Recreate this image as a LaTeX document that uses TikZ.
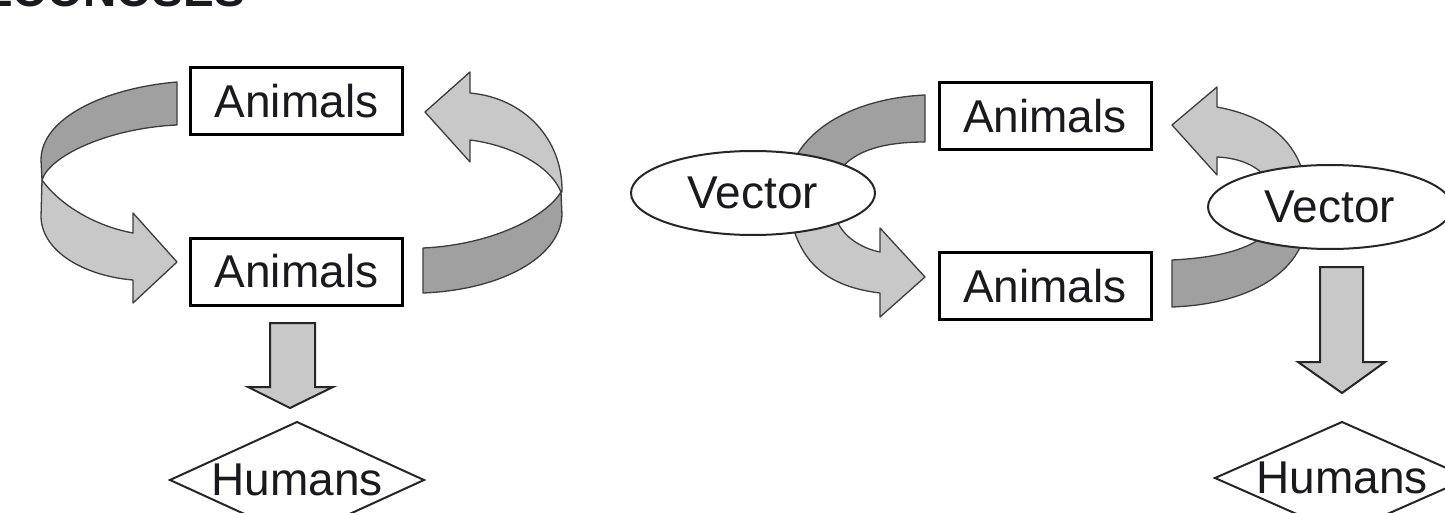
\documentclass[tikz,border=0pt]{standalone}
\usepackage{fontspec}
\setmainfont{Liberation Sans}
\usetikzlibrary{shapes.geometric,calc}
\definecolor{darkband}{RGB}{160,160,160}
\definecolor{lightband}{RGB}{200,200,200}
\definecolor{ribedge}{RGB}{60,60,60}
\definecolor{inkcol}{RGB}{25,25,30}
\begin{document}
\begin{tikzpicture}[x=1pt,y=-1pt,
  lab/.style={font=\fontsize{46}{50}\selectfont, text=inkcol, inner sep=0pt},
  boxnode/.style={lab, draw=black, line width=3pt, fill=white, minimum width=212pt, minimum height=67pt},
  vecnode/.style={lab, ellipse, draw=black!85, line width=2pt, fill=white, minimum width=244pt, minimum height=84pt},
  diamline/.style={draw=black!85, line width=2pt, line join=miter},
  darkrib/.style={fill=darkband, draw=ribedge, line width=1.3pt, line join=round},
  lightrib/.style={fill=lightband, draw=ribedge, line width=1.3pt, line join=round},
  downarrow/.style={fill=lightband, draw=black!85, line width=2pt, line join=miter}]
\useasboundingbox (0,0) rectangle (1445,513);
\clip (0,0) rectangle (1445,513);

% heading (cut off at the top)
\node[font=\bfseries\fontsize{46}{50}\selectfont, text=inkcol, anchor=base east, inner sep=0pt] (head) at (245,7) {ZOONOSES};

% ---------- left panel ----------
\node[boxnode] (a1) at (296.5,101.5) {Animals};
\node[boxnode] (a2) at (296.5,271.5) {Animals};

% left ribbon: dark part
\draw[darkrib] (177,82) .. controls (105,88) and (41,118) .. (41,160)
  -- (42,180) .. controls (50,155) and (110,128) .. (177,125) -- cycle;
% left ribbon: light part with head
\draw[lightrib] (42,180) .. controls (60,205) and (95,226) .. (133,233)
  -- (133,213) -- (177,262) -- (133,303) -- (133,280)
  .. controls (85,276) and (42,252) .. (41,217) -- cycle;

% right ribbon: dark part
\draw[darkrib] (423,248) .. controls (490,245) and (545,218) .. (561,192)
  -- (562,215) .. controls (560,258) and (500,290) .. (423,293) -- cycle;
% right ribbon: light part with head
\draw[lightrib] (561,192) .. controls (550,165) and (510,145) .. (470,140)
  -- (470,162) -- (425,112) -- (470,72) -- (470,93)
  .. controls (525,98) and (563,140) .. (562,192) -- cycle;

% down arrow
\draw[downarrow] (270,323) -- (315,323) -- (315,387) -- (333,387) -- (290,408)
  -- (248,387) -- (270,387) -- cycle;
\node[lab] (h1) at (297,480) {Humans};
\draw[diamline] ($(h1)+(-127,0)$) -- ($(h1)+(0,-58)$) -- ($(h1)+(127,0)$)
  -- ($(h1)+(0,58)$) -- cycle;

% ---------- right panel ----------
\node[boxnode] (b1) at (1045,116) {Animals};
\node[boxnode] (b2) at (1045,286) {Animals};

% arc from upper animals into left vector
\draw[darkrib] (925,95) .. controls (860,98) and (805,125) .. (790,170)
  -- (840,170) .. controls (855,150) and (885,142) .. (925,142) -- cycle;
% arrow from left vector to lower animals
\draw[lightrib] (835,215) .. controls (840,235) and (860,248) .. (880,252)
  -- (880,228) -- (925,277) -- (880,317) -- (880,293)
  .. controls (830,287) and (800,265) .. (790,215) -- cycle;
\node[vecnode] (v1) at (753,193) {Vector};

% arc from lower animals into right vector
\draw[darkrib] (1172,260) .. controls (1210,258) and (1245,252) .. (1265,235)
  -- (1305,235) .. controls (1290,285) and (1230,305) .. (1172,307) -- cycle;
% arrow from right vector to upper animals
\draw[lightrib] (1217,157) -- (1217,175) -- (1172,125) -- (1217,87) -- (1217,107)
  .. controls (1260,115) and (1295,135) .. (1305,180)
  -- (1268,180) .. controls (1258,166) and (1240,158) .. (1217,157) -- cycle;
\node[vecnode] (v2) at (1330,207) {Vector};

% down arrow
\draw[downarrow] (1320,267) -- (1363,267) -- (1363,362) -- (1385,362) -- (1342,393)
  -- (1298,362) -- (1320,362) -- cycle;
\node[lab] (h2) at (1342,478) {Humans};
\draw[diamline] ($(h2)+(-127,0)$) -- ($(h2)+(0,-56)$) -- ($(h2)+(127,0)$)
  -- ($(h2)+(0,56)$) -- cycle;
\end{tikzpicture}
\end{document}
